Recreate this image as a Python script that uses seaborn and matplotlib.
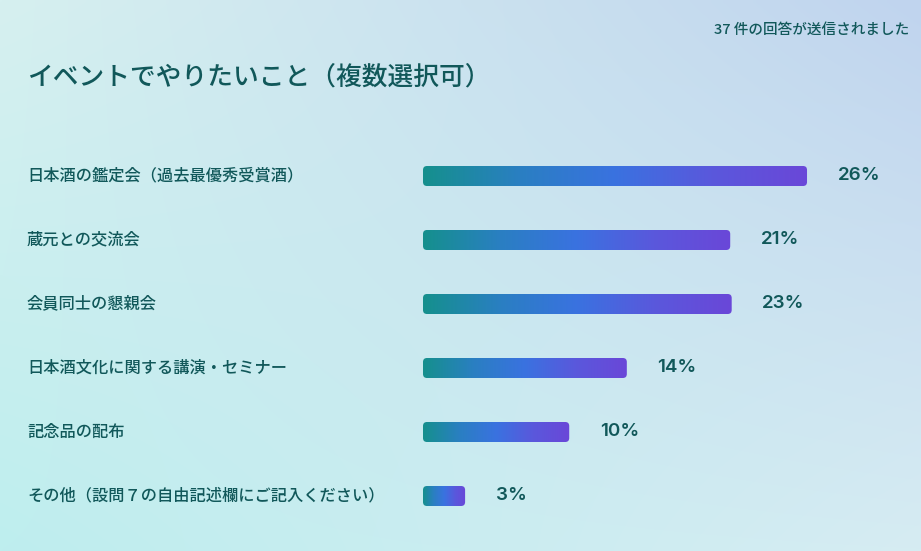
import numpy as np
import pandas as pd
import matplotlib
matplotlib.use("Agg")
import matplotlib.pyplot as plt
import seaborn as sns
from matplotlib.patches import FancyBboxPatch
from matplotlib.colors import LinearSegmentedColormap
from matplotlib.transforms import blended_transform_factory

# ---- data ----
categories = [
    "日本酒の鑑定会（過去最優秀受賞酒）",
    "蔵元との交流会",
    "会員同士の懇親会",
    "日本酒文化に関する講演・セミナー",
    "記念品の配布",
    "その他（設問７の自由記述欄にご記入ください）",
]
bar_values = [26.0, 20.8, 20.9, 13.8, 9.9, 2.85]
pct_labels = ["26%", "21%", "23%", "14%", "10%", "3%"]
title_text = "イベントでやりたいこと（複数選択可）"
response_text = "37 件の回答が送信されました"

sns.set_theme(style="white")
plt.rcParams['font.family'] = ['Noto Sans CJK JP', 'DejaVu Sans']

W, H = 921, 551
fig = plt.figure(figsize=(W / 100, H / 100), dpi=100)

# background gradient
bg = fig.add_axes([0, 0, 1, 1], zorder=0)
tl = np.array([214, 240, 240]) / 255
tr = np.array([192, 212, 238]) / 255
bl = np.array([190, 238, 238]) / 255
br = np.array([214, 236, 243]) / 255
u = np.linspace(0, 1, 200)[None, :, None]
v = np.linspace(0, 1, 120)[:, None, None]
img = (1 - v) * ((1 - u) * tl + u * tr) + v * ((1 - u) * bl + u * br)
bg.imshow(img, aspect='auto', extent=(0, 1, 0, 1), interpolation='bilinear')
bg.set_axis_off()

text_color = "#11585a"

# bar axes
ppu = 14.77  # pixels per percent
xmax = 30
ax_left = 423
ax_w = xmax * ppu
ax_top = 144
ax_h = 384
ax = fig.add_axes([ax_left / W, (H - ax_top - ax_h) / H, ax_w / W, ax_h / H], zorder=1)
ax.patch.set_alpha(0)

df = pd.DataFrame({"category": categories, "value": bar_values})
sns.barplot(data=df, x="value", y="category", ax=ax, width=0.3125,
            color="#3874dd", orient="h")

cmap = LinearSegmentedColormap.from_list(
    "bar", ["#15908d", "#2a7fc2", "#3a72e0", "#5a58dc", "#6a47d8"])
grad = np.linspace(0, 1, 256)[None, :]

rx = 4 / ppu
ry = 4 / 64
for p in list(ax.patches):
    x0, y0, w, h = p.get_x(), p.get_y(), p.get_width(), p.get_height()
    p.set_visible(False)
    rr = min(rx, w / 2)
    fb = FancyBboxPatch((x0, y0), w, h,
                        boxstyle=f"round,pad=0,rounding_size={rr}",
                        mutation_aspect=ry / rx, facecolor='none',
                        edgecolor='none', transform=ax.transData)
    ax.add_patch(fb)
    im = ax.imshow(grad, cmap=cmap, aspect='auto',
                   extent=(x0, x0 + w, y0 + h, y0), interpolation='bilinear',
                   zorder=2)
    im.set_clip_path(fb)

for i, (val, lab) in enumerate(zip(bar_values, pct_labels)):
    ax.annotate(lab, xy=(val, i), xytext=(22, 0), textcoords='offset points',
                ha='left', va='center', fontsize=13.5, color=text_color,
                fontweight='semibold', family=['Inter', 'DejaVu Sans'])

ax.set_xlim(0, xmax)
ax.set_ylim(5.5, -0.5)
ax.set_axis_off()

# category labels at left
trans = blended_transform_factory(fig.transFigure, ax.transData)
for i, c in enumerate(categories):
    ax.text(27 / W, i, c, transform=trans, ha='left', va='center',
            fontsize=11.7, color=text_color, clip_on=False, fontweight='medium')

fig.text(27 / W, 1 - 77 / H, title_text, ha='left', va='center',
         fontsize=18.5, color=text_color, fontweight='medium')
fig.text(909 / W, 1 - 30 / H, response_text, ha='right', va='center',
         fontsize=10.5, color=text_color, fontweight='medium')

fig.savefig("out.png", dpi=100)
